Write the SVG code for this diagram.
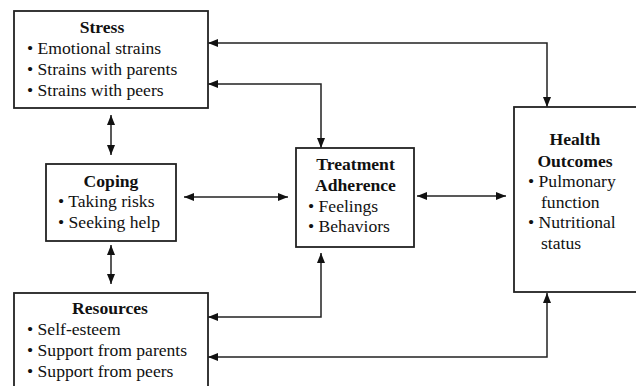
<svg xmlns="http://www.w3.org/2000/svg" width="636" height="386" viewBox="0 0 636 386">
<defs>
<style>
.box{fill:#fff;stroke:#222;stroke-width:1.8}
.t{font-family:"Liberation Serif","Times New Roman",serif;font-size:17.6px;fill:#111}
.h{font-weight:bold;text-anchor:middle}
.c{fill:none;stroke:#222;stroke-width:1.5}
</style>
<marker id="ah" viewBox="0 0 10 8" refX="10" refY="4" markerWidth="10" markerHeight="8" markerUnits="userSpaceOnUse" orient="auto-start-reverse">
<path d="M0,0 L10,4 L0,8 z" fill="#111"/>
</marker>
</defs>
<rect width="636" height="386" fill="#fff"/>
<g id="connectors">
<path class="c" d="M208,43 H547 V107" marker-start="url(#ah)" marker-end="url(#ah)"/>
<path class="c" d="M208,84 H321 V148" marker-start="url(#ah)" marker-end="url(#ah)"/>
<path class="c" d="M111,115 V155" marker-start="url(#ah)" marker-end="url(#ah)"/>
<path class="c" d="M111,245 V284" marker-start="url(#ah)" marker-end="url(#ah)"/>
<path class="c" d="M184,197 H288" marker-start="url(#ah)" marker-end="url(#ah)"/>
<path class="c" d="M417,196 H506" marker-start="url(#ah)" marker-end="url(#ah)"/>
<path class="c" d="M208,317 H321 V253" marker-start="url(#ah)" marker-end="url(#ah)"/>
<path class="c" d="M208,357 H547 V293" marker-start="url(#ah)" marker-end="url(#ah)"/>
</g>
<g id="stress">
<rect class="box" x="14" y="11" width="194" height="97"/>
<text class="t h" x="102" y="33">Stress</text>
<text class="t" x="27" y="54">• Emotional strains</text>
<text class="t" x="27" y="75">• Strains with parents</text>
<text class="t" x="27" y="96">• Strains with peers</text>
</g>
<g id="coping">
<rect class="box" x="46" y="164" width="130" height="77"/>
<text class="t h" x="111" y="187">Coping</text>
<text class="t" x="58" y="207">• Taking risks</text>
<text class="t" x="58" y="228">• Seeking help</text>
</g>
<g id="resources">
<rect class="box" x="14" y="293" width="194" height="100"/>
<text class="t h" x="110" y="314">Resources</text>
<text class="t" x="27" y="335">• Self-esteem</text>
<text class="t" x="27" y="356">• Support from parents</text>
<text class="t" x="27" y="377">• Support from peers</text>
</g>
<g id="treatment">
<rect class="box" x="296" y="148" width="118" height="99"/>
<text class="t h" x="355.5" y="170">Treatment</text>
<text class="t h" x="355.5" y="191">Adherence</text>
<text class="t" x="308" y="212">• Feelings</text>
<text class="t" x="308" y="232">• Behaviors</text>
</g>
<g id="health">
<rect class="box" x="514" y="107" width="130" height="185"/>
<text class="t h" x="575" y="145">Health</text>
<text class="t h" x="575" y="167">Outcomes</text>
<text class="t" x="528" y="187">• Pulmonary</text>
<text class="t" x="541" y="208">function</text>
<text class="t" x="528" y="228">• Nutritional</text>
<text class="t" x="541" y="249">status</text>
</g>
</svg>
